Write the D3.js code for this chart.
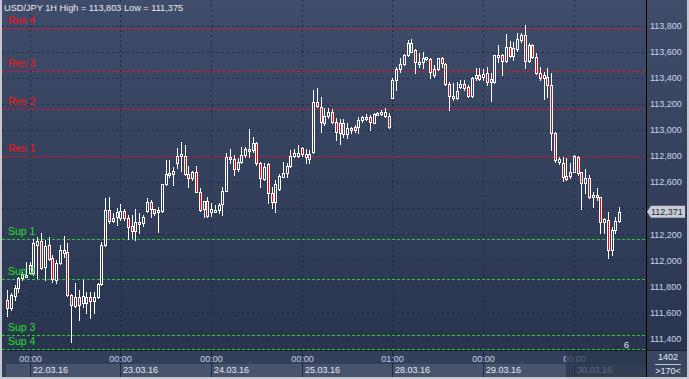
<!DOCTYPE html>
<html><head><meta charset="utf-8">
<script src="https://cdn.jsdelivr.net/npm/d3@7"></script>
<style>
body{margin:0;background:#c4c8d0;}
svg{display:block;font-family:"Liberation Sans",Arial,sans-serif;}
</style>
</head><body>
<svg id="c" width="689" height="379"></svg>
<script>
const symbol = "USD/JPY";
const timeframe = "1H";
const opens = [111.695,111.634,111.726,111.787,111.864,111.879,111.902,111.902,112.117,112.147,111.948,112.117,112.017,111.848,111.979,112.055,112.063,111.734,111.649,111.718,111.672,111.672,111.718,111.687,111.718,111.817,112.117,112.385,112.301,112.332,112.324,112.378,112.324,112.263,112.224,112.278,112.286,112.378,112.447,112.393,112.370,112.378,112.585,112.654,112.661,112.800,112.800,112.800,112.661,112.631,112.677,112.524,112.393,112.455,112.370,112.378,112.385,112.431,112.531,112.776,112.776,112.700,112.753,112.807,112.838,112.845,112.899,112.746,112.623,112.738,112.516,112.447,112.546,112.638,112.669,112.723,112.800,112.800,112.861,112.792,112.815,112.830,113.213,113.175,113.052,113.106,113.137,113.060,112.976,113.052,112.968,112.999,113.022,113.022,113.075,113.083,113.098,113.052,113.121,113.129,113.106,113.106,113.244,113.382,113.467,113.505,113.574,113.597,113.612,113.505,113.520,113.543,113.543,113.421,113.467,113.551,113.505,113.352,113.244,113.244,113.328,113.352,113.328,113.260,113.398,113.421,113.405,113.436,113.367,113.367,113.566,113.574,113.528,113.635,113.566,113.620,113.689,113.727,113.528,113.651,113.559,113.436,113.398,113.405,113.344,112.976,112.753,112.746,112.646,112.646,112.677,112.792,112.677,112.592,112.631,112.485,112.485,112.485,112.294,112.309,112.078,112.232,112.301];
const highs = [111.772,111.749,111.810,111.871,111.910,111.987,111.987,112.163,112.178,112.209,112.155,112.178,112.040,112.002,112.117,112.186,112.132,111.741,111.825,111.772,111.848,111.757,111.757,111.757,111.825,112.140,112.477,112.485,112.362,112.400,112.431,112.393,112.347,112.347,112.393,112.362,112.347,112.477,112.462,112.393,112.408,112.585,112.769,112.769,112.715,112.861,112.907,112.884,112.723,112.684,112.723,112.554,112.455,112.485,112.439,112.424,112.439,112.562,112.822,112.853,112.807,112.784,112.868,112.868,113.006,112.945,112.907,112.753,112.746,112.746,112.562,112.615,112.661,112.753,112.746,112.845,112.853,112.884,112.868,112.853,112.845,113.305,113.321,113.252,113.167,113.167,113.160,113.091,113.083,113.083,113.052,113.022,113.037,113.098,113.106,113.121,113.114,113.129,113.137,113.152,113.167,113.129,113.397,113.482,113.551,113.582,113.689,113.697,113.620,113.589,113.597,113.559,113.551,113.497,113.551,113.559,113.513,113.367,113.359,113.367,113.382,113.382,113.344,113.405,113.474,113.474,113.467,113.482,113.436,113.574,113.651,113.582,113.735,113.681,113.674,113.743,113.743,113.803,113.666,113.658,113.589,113.482,113.444,113.474,113.436,112.983,112.792,112.792,112.784,112.746,112.807,112.800,112.677,112.700,112.654,112.524,112.554,112.485,112.324,112.370,112.255,112.332,112.408];
const lows = [111.572,111.618,111.695,111.757,111.848,111.871,111.894,111.887,111.864,111.933,111.848,112.002,111.833,111.825,111.971,112.025,111.726,111.375,111.641,111.542,111.641,111.595,111.557,111.595,111.710,111.810,112.109,112.286,112.294,112.270,112.309,112.309,112.163,112.171,112.155,112.209,112.263,112.370,112.332,112.347,112.217,112.370,112.577,112.638,112.577,112.707,112.684,112.654,112.562,112.615,112.524,112.378,112.332,112.332,112.340,112.370,112.362,112.347,112.531,112.746,112.654,112.684,112.746,112.792,112.792,112.830,112.730,112.562,112.615,112.439,112.400,112.370,112.539,112.638,112.638,112.715,112.792,112.792,112.800,112.746,112.746,112.822,113.175,112.983,113.037,113.091,113.052,112.922,112.891,112.945,112.937,112.976,112.983,112.976,113.060,113.075,112.999,113.052,113.114,113.114,113.098,113.014,113.244,113.305,113.444,113.497,113.566,113.597,113.436,113.482,113.474,113.536,113.398,113.405,113.459,113.482,113.344,113.152,113.229,113.237,113.321,113.305,113.252,113.252,113.382,113.382,113.382,113.344,113.221,113.359,113.520,113.421,113.520,113.559,113.536,113.605,113.674,113.474,113.520,113.551,113.428,113.382,113.237,113.252,112.845,112.753,112.738,112.608,112.615,112.631,112.677,112.654,112.393,112.516,112.477,112.408,112.462,112.209,112.209,112.017,112.040,112.209,112.294];
const closes = [111.634,111.734,111.787,111.864,111.894,111.887,111.964,112.132,112.147,111.940,112.109,112.009,111.856,111.979,112.078,112.078,111.734,111.657,111.718,111.657,111.726,111.718,111.687,111.718,111.817,112.117,112.385,112.301,112.324,112.370,112.378,112.324,112.255,112.224,112.294,112.294,112.332,112.447,112.393,112.362,112.385,112.585,112.661,112.669,112.684,112.746,112.815,112.661,112.631,112.677,112.524,112.385,112.455,112.340,112.393,112.385,112.424,112.531,112.792,112.792,112.700,112.753,112.807,112.853,112.853,112.899,112.746,112.631,112.715,112.516,112.447,112.585,112.646,112.669,112.723,112.800,112.822,112.822,112.815,112.815,112.776,113.213,113.183,113.060,113.106,113.137,113.060,112.983,113.052,112.968,113.014,113.014,112.999,113.075,113.098,113.098,113.060,113.121,113.129,113.137,113.137,113.022,113.382,113.467,113.505,113.574,113.666,113.666,113.520,113.520,113.551,113.559,113.444,113.467,113.551,113.513,113.352,113.260,113.260,113.298,113.352,113.321,113.260,113.398,113.421,113.390,113.428,113.367,113.390,113.574,113.574,113.528,113.635,113.566,113.628,113.697,113.727,113.528,113.651,113.559,113.436,113.398,113.421,113.344,112.976,112.769,112.776,112.638,112.623,112.677,112.800,112.669,112.592,112.631,112.485,112.500,112.500,112.294,112.317,112.078,112.232,112.301,112.371];

const priceTicks = [111.4,111.6,111.8,112.0,112.2,112.4,112.6,112.8,113.0,113.2,113.4,113.6,113.8];
const resNames = ["Res 1","Res 2","Res 3","Res 4"];
const resLevels = [112.802,113.160,113.449,113.779];
const supNames = ["Sup 1","Sup 2","Sup 3","Sup 4"];
const supLevels = [112.160,111.854,111.424,111.317];
const dayIndex = [6,30,54,78,102,126,150];
const dayTimes = ["00:00","00:00","00:00","00:00","01:00","00:00","00:00"];
const dayDates = ["22.03.16","23.03.16","24.03.16","25.03.16","28.03.16","29.03.16","30.03.16"];
const totalBars = "1402";
const visibleBars = ">170<";
const markerCount = "6";

const fmt = v => d3.format(".3f")(v).replace(".", ",");
const W = 689, H = 379;
const plotL = 2, plotR = 646, plotT = 0, plotB = 350;
const svg = d3.select("#c");

const defs = svg.append("defs");
const g1 = defs.append("linearGradient").attr("id","bg").attr("x1",0).attr("y1",0).attr("x2",0).attr("y2",1);
g1.append("stop").attr("offset","0%").attr("stop-color","#3f4d6a");
g1.append("stop").attr("offset","100%").attr("stop-color","#29344f");
defs.append("clipPath").attr("id","pc").append("rect").attr("x",plotL).attr("y",plotT).attr("width",plotR-plotL).attr("height",plotB-plotT);

// frame + backgrounds
svg.append("rect").attr("width",W).attr("height",H).attr("fill","#c4c8d0");
svg.append("rect").attr("x",2).attr("y",0).attr("width",685).attr("height",plotB).attr("fill","url(#bg)");
svg.append("rect").attr("x",2).attr("y",plotB).attr("width",685).attr("height",14).attr("fill","#34405a");
svg.append("rect").attr("x",2).attr("y",364).attr("width",685).attr("height",13).attr("fill","#34405a");
svg.append("rect").attr("x",6).attr("y",364).attr("width",plotR-6).attr("height",13).attr("fill","#48546e");

const x = d3.scaleLinear().domain([0, opens.length-1]).range([7, 619.2]);
const y = d3.scaleLinear().domain([111.4, 113.8]).range([338.5, 25.5]);
const py = v => Math.round(y(v)) + 0.5;

const plot = svg.append("g").attr("clip-path","url(#pc)");

// grid
plot.selectAll("line.hg").data(priceTicks).join("line")
  .attr("x1",plotL).attr("x2",plotR).attr("y1",d=>py(d)).attr("y2",d=>py(d))
  .attr("stroke","#1b2a4a").attr("stroke-width",1).attr("stroke-dasharray","2,3");
plot.selectAll("line.vg").data(dayIndex).join("line")
  .attr("x1",d=>Math.round(x(d))+0.5).attr("x2",d=>Math.round(x(d))+0.5).attr("y1",0).attr("y2",plotB)
  .attr("stroke","#1b2a4a").attr("stroke-width",1).attr("stroke-dasharray","2,3");

// levels
plot.selectAll("line.res").data(resLevels).join("line")
  .attr("x1",plotL).attr("x2",plotR).attr("y1",d=>py(d)).attr("y2",d=>py(d))
  .attr("stroke","#e3141e").attr("stroke-width",1).attr("stroke-dasharray","3,2");
plot.selectAll("line.sup").data(supLevels).join("line")
  .attr("x1",plotL).attr("x2",plotR).attr("y1",d=>py(d)).attr("y2",d=>py(d))
  .attr("stroke","#1ed21e").attr("stroke-width",1).attr("stroke-dasharray","3,2");
svg.selectAll("text.res").data(resLevels).join("text")
  .attr("x",8).attr("y",d=>y(d)-4).attr("fill","#ff1010").attr("font-size","10.5px").text((d,i)=>resNames[i]);
svg.selectAll("text.sup").data(supLevels).join("text")
  .attr("x",8).attr("y",d=>y(d)-4).attr("fill","#20e020").attr("font-size","10.5px").text((d,i)=>supNames[i]);

// candles
const idx = d3.range(opens.length);
const cg = plot.append("g");
idx.forEach(i => {
  const col = Math.round(x(i));
  const o = opens[i], c = closes[i], h = highs[i], l = lows[i];
  let top = Math.round(y(Math.max(o,c)));
  let bot = Math.round(y(Math.min(o,c)));
  if (bot - top < 2) bot = top + 2;
  const yh = Math.round(y(h)), yl = Math.round(y(l));
  if (yh < top) cg.append("line").attr("x1",col+0.5).attr("x2",col+0.5).attr("y1",yh).attr("y2",top).attr("stroke","#fff");
  if (yl > bot) cg.append("line").attr("x1",col+0.5).attr("x2",col+0.5).attr("y1",bot+1).attr("y2",yl+1).attr("stroke","#fff");
  cg.append("rect").attr("x",col-0.5).attr("y",top+0.5).attr("width",2).attr("height",bot-top)
    .attr("fill", c < o ? "#ff0000" : "none").attr("stroke","#fff").attr("stroke-width",1);
});

// marker
svg.append("path").attr("d","M615,348 L618,344.5 L621,348 Z").attr("fill","#222b3e");
svg.append("text").attr("x",624).attr("y",348).attr("fill","#e8ecf4").attr("font-size","9px").text(markerCount);

// time axis
svg.append("line").attr("x1",2).attr("x2",W-2).attr("y1",plotB+0.5).attr("y2",plotB+0.5).attr("stroke","#161e30");
svg.selectAll("line.ds").data(dayIndex).join("line")
  .attr("x1",d=>Math.round(x(d))+0.5).attr("x2",d=>Math.round(x(d))+0.5).attr("y1",plotB).attr("y2",377)
  .attr("stroke","#1f2a42");
svg.selectAll("text.tt").data(dayIndex).join("text")
  .attr("x",d=>Math.round(x(d))+0.5).attr("y",361.5).attr("text-anchor","middle")
  .attr("fill","#c4d2ea").attr("font-size","9px").text((d,i)=>dayTimes[i]);
svg.selectAll("text.dd").data(dayIndex).join("text")
  .attr("x",d=>Math.round(x(d))+3).attr("y",372.5)
  .attr("fill","#e4e8f0").attr("font-size","9px").text((d,i)=>dayDates[i]);
// dim overlay on the last period
svg.append("rect").attr("x",566).attr("y",plotB+1).attr("width",plotR-566).attr("height",26).attr("fill","#2a344b").attr("opacity",0.72);

// right axis
const last = closes[closes.length-1];
const ly = y(last);
svg.append("line").attr("x1",plotR+0.5).attr("x2",plotR+0.5).attr("y1",0).attr("y2",377).attr("stroke","#000");
const shownTicks = priceTicks.filter(t => Math.abs(y(t) - ly) > 11);
const ax = svg.append("g").attr("transform",`translate(${plotR},0)`)
  .call(d3.axisRight(y).tickValues(shownTicks).tickSize(0).tickPadding(4).tickFormat(fmt));
ax.select(".domain").remove();
ax.selectAll("text").attr("fill","#cdd6e6").attr("font-size","9px").attr("font-family","Liberation Sans, Arial, sans-serif");

// current price label
svg.append("path").attr("d",`M647,${ly} L651,${ly-6} L685,${ly-6} L685,${ly+6} L651,${ly+6} Z`).attr("fill","#c9ccd4");
svg.append("text").attr("x",651).attr("y",ly+3.3).attr("fill","#1e2638").attr("font-size","9px").text(fmt(last));

// bottom right box
svg.append("rect").attr("x",plotR+1).attr("y",plotB+1).attr("width",40).attr("height",26).attr("fill","#3a4660");
svg.append("text").attr("x",668).attr("y",360).attr("text-anchor","middle").attr("fill","#e4e8f0").attr("font-size","9px").text(totalBars);
svg.append("line").attr("x1",655).attr("x2",681).attr("y1",364.5).attr("y2",364.5).attr("stroke","#c0c8d8");
svg.append("text").attr("x",668).attr("y",374).attr("text-anchor","middle").attr("fill","#e4e8f0").attr("font-size","9px").text(visibleBars);

// title
const hi = d3.max(highs), lo = d3.min(lows);
svg.append("text").attr("x",4).attr("y",11.3).attr("fill","#e8eaf2").attr("font-size","9.2px")
  .text(`${symbol} ${timeframe} High = ${fmt(hi)} Low = ${fmt(lo)}`);
</script>
</body></html>
